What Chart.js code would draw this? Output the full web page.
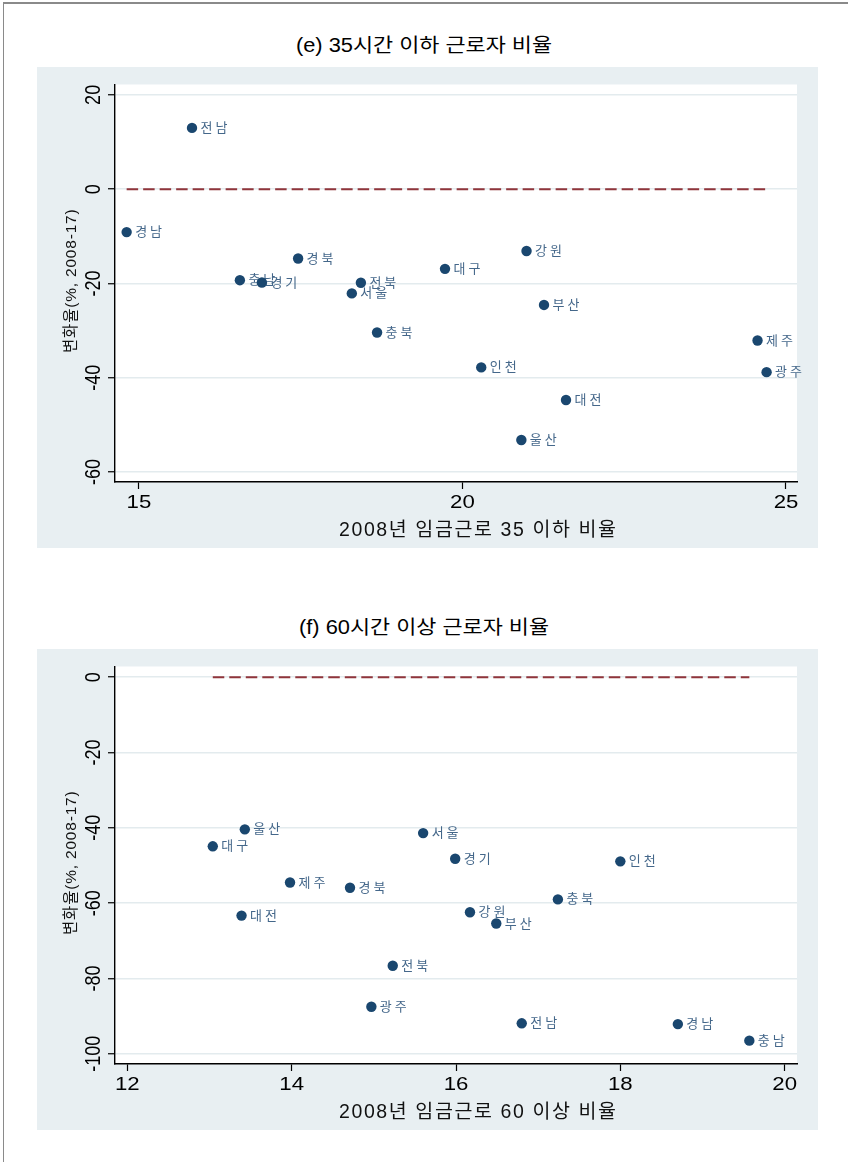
<!DOCTYPE html>
<html lang="ko">
<head>
<meta charset="utf-8">
<title>근로시간 구간별 근로자 비율 변화</title>
<script src="https://cdn.jsdelivr.net/npm/chart.js@4.4.1/dist/chart.umd.min.js"></script>
<style>
  html, body { margin: 0; padding: 0; background: #fff; }
  body {
    width: 848px; height: 1162px; position: relative; overflow: hidden;
    font-family: "Liberation Sans", Arial, "Noto Sans CJK KR", sans-serif;
  }
  .rule-top  { position: absolute; left: 3px; right: 0; top: 2px; height: 2px; background: #8a8a8a; }
  .rule-left { position: absolute; left: 2.5px; top: 2px; bottom: 0; width: 1.5px; background: #8a8a8a; }
  .title {
    position: absolute; left: 0; width: 848px; text-align: center;
    font-size: 19.5px; line-height: 24px; color: #000; white-space: pre;
    transform: scaleX(1.12); transform-origin: 424px 50%;
  }
  canvas { position: absolute; left: 37px; }
</style>
</head>
<body>
<div class="rule-top"></div>
<div class="rule-left"></div>

<div class="title" style="top:33px">(e) 35시간 이하 근로자 비율</div>
<canvas id="chart35" width="781" height="481" style="top:67px"></canvas>

<div class="title" style="top:615px">(f) 60시간 이상 근로자 비율</div>
<canvas id="chart60" width="781" height="481" style="top:649px"></canvas>

<script>
// 시도별 2008년 임금근로자 비중(x)과 2008-17 변화율(y)
const regions = ['서울', '부산', '대구', '인천', '광주', '대전', '울산', '경기',
                 '강원', '충북', '충남', '전북', '전남', '경북', '경남', '제주'];

// (e) 주 35시간 이하 근로자 비율
const share35  = [18.29, 21.26, 19.73, 20.29, 24.70, 21.60, 20.91, 16.90,
                  20.99, 18.68, 16.56, 18.43, 15.82, 17.46, 14.81, 24.56];
const change35 = [-22.1, -24.55, -16.9, -37.8, -38.8, -44.7, -53.2, -19.8,
                  -13.1, -30.4, -19.3, -19.85, 13.0, -14.7, -9.1, -32.1];

// (f) 주 60시간 이상 근로자 비율
const share60  = [15.60, 16.49, 13.04, 18.00, 14.97, 13.39, 13.43, 15.99,
                  16.17, 17.24, 19.57, 15.23, 16.80, 14.71, 18.70, 13.98];
const change60 = [-41.4, -65.4, -44.9, -48.9, -87.5, -63.3, -40.4, -48.2,
                  -62.4, -59.0, -96.5, -76.6, -91.9, -55.9, -92.1, -54.5];

// 축 눈금
const xTicks35 = [15, 20, 25];
const yTicks35 = [-60, -40, -20, 0, 20];
const xTicks60 = [12, 14, 16, 18, 20];
const yTicks60 = [-100, -80, -60, -40, -20, 0];

const yTitle = '변화율(%, 2008-17)';
const xTitle35 = '2008년 임금근로 35 이하 비율';
const xTitle60 = '2008년 임금근로 60 이상 비율';

const FONT = '"Liberation Sans", Arial, "Noto Sans CJK KR", sans-serif';
const PANEL_BG = '#e8eff2';
const GRID = '#e3ebee';
const MARKER = '#1a476f';
const LABEL = '#44678a';
const REF_LINE = '#90353b';

function drawText(ctx, str, x, y, o) {
  ctx.save();
  ctx.translate(x, y);
  if (o.rotate) ctx.rotate(o.rotate);
  ctx.scale(o.sx || 1, o.sy || 1);
  ctx.font = o.font;
  ctx.fillStyle = o.color || '#000';
  ctx.textAlign = o.align || 'left';
  ctx.textBaseline = o.baseline || 'alphabetic';
  if ('letterSpacing' in ctx) ctx.letterSpacing = (o.spacing || 0) + 'px';
  ctx.fillText(str, 0, 0);
  ctx.restore();
}

// 배경, 축 라벨, 지역명 라벨
const panelText = {
  id: 'panelText',
  beforeDraw(chart) {
    const { ctx, chartArea: a } = chart;
    ctx.save();
    ctx.fillStyle = PANEL_BG;
    ctx.fillRect(0, 0, chart.width, chart.height);
    ctx.fillStyle = '#fff';
    ctx.fillRect(a.left, a.top, a.right - a.left, a.bottom - a.top);
    ctx.restore();
  },
  beforeDatasetsDraw(chart, args, opts) {
    const { ctx, chartArea: a } = chart;
    const xs = chart.scales.x, ys = chart.scales.y;

    ys.ticks.forEach(t => {
      drawText(ctx, String(t.value), a.left - 15.4, ys.getPixelForValue(t.value), {
        font: '18px ' + FONT, rotate: -Math.PI / 2, sy: 1.25, align: 'center'
      });
    });
    xs.ticks.forEach(t => {
      drawText(ctx, String(t.value), xs.getPixelForValue(t.value), a.bottom + 25.7, {
        font: '18.5px ' + FONT, sx: 1.2, align: 'center'
      });
    });

    drawText(ctx, opts.yTitle, a.left - 43.2, (a.top + a.bottom) / 2 - 2.5, {
      font: '15.5px ' + FONT, rotate: -Math.PI / 2, align: 'center',
      baseline: 'middle', spacing: 0.8, color: '#111'
    });
    drawText(ctx, opts.xTitle, a.left + 224, a.bottom + 54.4, {
      font: '19.5px ' + FONT, spacing: 1.6, color: '#111'
    });

    const meta = chart.getDatasetMeta(1);
    meta.data.forEach((pt, i) => {
      drawText(ctx, opts.names[i], pt.x + 8.5, pt.y + 0.5, {
        font: '13px ' + FONT, baseline: 'middle', spacing: 3, color: LABEL
      });
    });
  }
};

function makeChart(id, xs, ys, xTicks, yTicks, range, xTitle) {
  const points = xs.map((x, i) => ({ x, y: ys[i] }));
  const zeroLine = [{ x: Math.min(...xs), y: 0 }, { x: Math.max(...xs), y: 0 }];
  const setTicks = arr => scale => { scale.ticks = arr.slice().sort((p, q) => p - q).map(v => ({ value: v })); };

  return new Chart(document.getElementById(id), {
    type: 'scatter',
    data: {
      datasets: [
        {
          data: zeroLine, showLine: true, borderColor: REF_LINE, borderWidth: 2,
          borderDash: [11.5, 5], pointRadius: 0, order: 2
        },
        {
          data: points, backgroundColor: MARKER, borderWidth: 0,
          pointRadius: 5.2, pointHoverRadius: 5.2, order: 1
        }
      ]
    },
    options: {
      responsive: false,
      animation: false,
      devicePixelRatio: 1,
      layout: { padding: { top: 17.5, right: 21, left: 0, bottom: 0 } },
      plugins: {
        legend: { display: false },
        tooltip: { enabled: false },
        panelText: { names: regions, yTitle: yTitle, xTitle: xTitle }
      },
      scales: {
        x: {
          type: 'linear', min: range.xMin, max: range.xMax,
          afterBuildTicks: setTicks(xTicks),
          afterFit: s => { s.height = 66; },
          ticks: { display: false },
          grid: { drawOnChartArea: false, drawTicks: true, tickLength: 7, tickColor: '#000', tickWidth: 1.2 },
          border: { display: true, color: '#000', width: 1.4 }
        },
        y: {
          type: 'linear', min: range.yMin, max: range.yMax,
          afterBuildTicks: setTicks(yTicks),
          afterFit: s => { s.width = 78; },
          ticks: { display: false },
          grid: { color: GRID, lineWidth: 1.5, drawTicks: true, tickLength: 7, tickColor: '#000', tickWidth: 1.2 },
          border: { display: true, color: '#000', width: 1.4 }
        }
      }
    },
    plugins: [panelText]
  });
}

makeChart('chart35', share35, change35, xTicks35, yTicks35,
  { xMin: 14.63, xMax: 25.17, yMin: -62.1, yMax: 22.2 }, xTitle35);
makeChart('chart60', share60, change60, xTicks60, yTicks60,
  { xMin: 11.85, xMax: 20.15, yMin: -102.7, yMax: 2.84 }, xTitle60);
</script>
</body>
</html>
